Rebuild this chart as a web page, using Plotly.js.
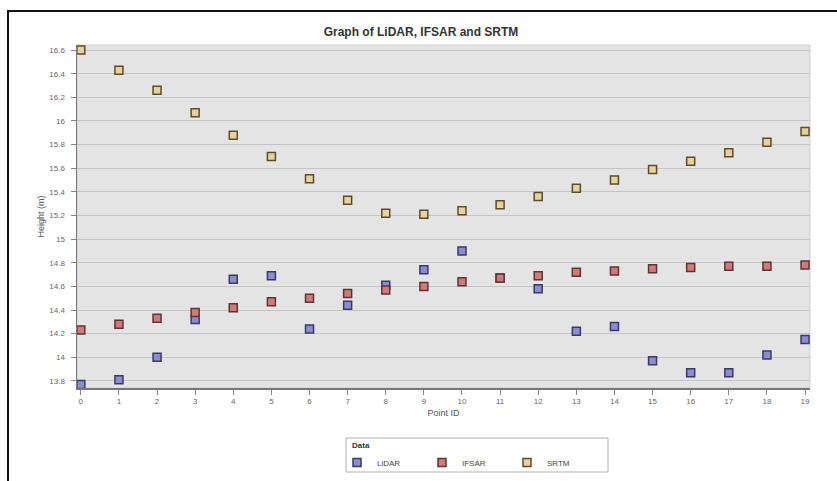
<!DOCTYPE html>
<html>
<head>
<meta charset="utf-8">
<script src="https://cdn.plot.ly/plotly-3.0.1.min.js"></script>
<style>
  html, body { margin: 0; padding: 0; background: #fff; }
  #wrap { position: relative; width: 837px; height: 481px; overflow: hidden; }
  #chart { position: absolute; left: 0; top: 0; width: 837px; height: 481px; }
  #frame { position: absolute; left: 7px; top: 10px; width: 840px; height: 480px;
           border-left: 2px solid #111; border-top: 2px solid #111; pointer-events: none; }
</style>
</head>
<body>
<div id="wrap"><div id="chart"></div><div id="frame"></div></div>
<script>
const pointIds = [0,1,2,3,4,5,6,7,8,9,10,11,12,13,14,15,16,17,18,19];
const lidar = [13.77,13.81,14.00,14.32,14.66,14.69,14.24,14.44,14.61,14.74,14.90,14.67,14.58,14.22,14.26,13.97,13.87,13.87,14.02,14.15];
const ifsar = [14.23,14.28,14.33,14.38,14.42,14.47,14.50,14.54,14.57,14.60,14.64,14.67,14.69,14.72,14.73,14.75,14.76,14.77,14.77,14.78];
const srtm  = [16.60,16.43,16.26,16.07,15.88,15.70,15.51,15.33,15.22,15.21,15.24,15.29,15.36,15.43,15.50,15.59,15.66,15.73,15.82,15.91];
const yTickVals = [13.8,14,14.2,14.4,14.6,14.8,15,15.2,15.4,15.6,15.8,16,16.2,16.4,16.6];
const yTickText = ['13.8','14','14.2','14.4','14.6','14.8','15','15.2','15.4','15.6','15.8','16','16.2','16.4','16.6'];
const seriesNames = ['LiDAR','IFSAR','SRTM'];

const font = 'Liberation Sans, Arial, sans-serif';
function tr(y, name, fill, edge) {
  return {
    type: 'scatter', mode: 'markers', x: pointIds, y: y, name: name,
    marker: { symbol: 'square', size: 8, color: fill, line: { color: edge, width: 1.5 } }
  };
}
const data = [
  tr(lidar, seriesNames[0], '#8c8cd2', '#3a3a66'),
  tr(ifsar, seriesNames[1], '#d07a7a', '#5e3434'),
  tr(srtm,  seriesNames[2], '#e6d2a0', '#5e4c28')
];
const layout = {
  width: 837, height: 481,
  margin: { l: 77, r: 27, t: 45, b: 93, autoexpand: false },
  paper_bgcolor: '#ffffff',
  plot_bgcolor: '#e4e4e4',
  font: { family: font, size: 8, color: '#555' },
  title: { text: '<b>Graph of LiDAR, IFSAR and SRTM</b>', font: { family: font, size: 12, color: '#333' },
           x: 0.503, xref: 'container', y: 1 - 32/481, yref: 'container', yanchor: 'middle', xanchor: 'center' },
  xaxis: {
    automargin: false,
    range: [-0.1, 19.13], tickvals: pointIds, ticktext: pointIds.map(String),
    showgrid: false, zeroline: false, showline: true, linecolor: '#777', linewidth: 1.5,
    ticks: 'outside', ticklen: 5, tickcolor: '#888', tickfont: { size: 8, color: '#666' },
    ticklabelstandoff: 0,
    title: { text: 'Point ID', font: { size: 9, color: '#555' }, standoff: 4 }
  },
  yaxis: {
    automargin: false,
    range: [13.74, 16.643], tickvals: yTickVals, ticktext: yTickText,
    showgrid: true, gridcolor: '#c4c4c4', gridwidth: 1, zeroline: false,
    showline: true, linecolor: '#777', linewidth: 1.5,
    ticks: 'outside', ticklen: 5, tickcolor: '#888', tickfont: { size: 8, color: '#666' },
    ticklabelstandoff: 4,
    title: { text: 'Height (m)', font: { size: 9, color: '#555' }, standoff: 3 }
  },
  shapes: [
    { type: 'rect', xref: 'paper', yref: 'paper', x0: 0, x1: 1, y0: 0, y1: 1,
      line: { color: '#cfcfcf', width: 1 }, layer: 'below' },
    { type: 'rect', xref: 'paper', yref: 'paper', x0: (346-77)/733, x1: (608-77)/733,
      y0: (388-472)/343, y1: (388-438)/343, line: { color: '#b0b0b0', width: 1 }, fillcolor: 'rgba(0,0,0,0)' }
  ],
  annotations: [
    { text: '<b>Data</b>', xref: 'paper', yref: 'paper', x: (350-77)/733, y: (388-445)/343,
      xanchor: 'left', yanchor: 'middle', showarrow: false, font: { size: 8, color: '#333' } }
  ],
  showlegend: true,
  legend: {
    orientation: 'h', x: (337-77)/733, xanchor: 'left', y: (388-448)/343, yanchor: 'top',
    borderwidth: 0, bgcolor: 'rgba(0,0,0,0)',
    font: { size: 8, color: '#444' }, entrywidth: 40, itemwidth: 30, tracegroupgap: 0
  }
};
Plotly.newPlot('chart', data, layout, { displayModeBar: false, staticPlot: true });
</script>
</body>
</html>
